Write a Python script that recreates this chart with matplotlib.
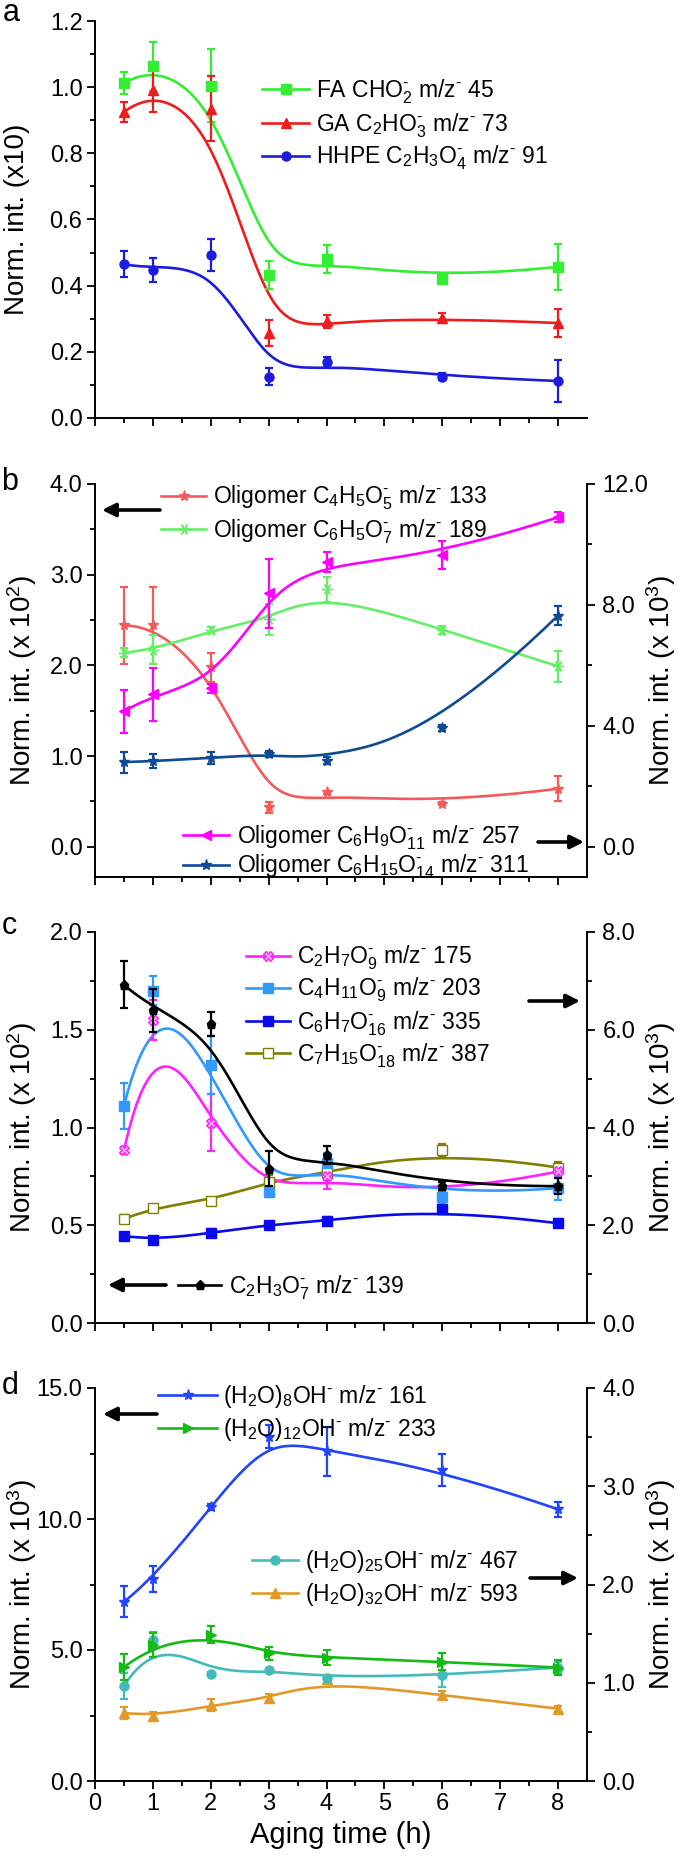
import numpy as np
import matplotlib
matplotlib.use("Agg")
import matplotlib.pyplot as plt
from matplotlib.lines import Line2D
from matplotlib.patches import FancyArrowPatch
from matplotlib.ticker import MultipleLocator, FormatStrFormatter

plt.rcParams['font.family'] = ['Liberation Sans', 'DejaVu Sans']
plt.rcParams['mathtext.fontset'] = 'custom'
plt.rcParams['mathtext.rm'] = 'Liberation Sans'
plt.rcParams['mathtext.it'] = 'Liberation Sans:italic'
plt.rcParams['mathtext.bf'] = 'Liberation Sans:bold'
plt.rcParams['mathtext.default'] = 'regular'

# ---------------- data ----------------
time_h = [0.5, 1, 2, 3, 4, 6, 8]

# panel a (x10)
fa_y = [1.012, 1.063, 1.005, 0.432, 0.480, 0.420, 0.457]
fa_e = [0.033, 0.075, 0.110, 0.043, 0.043, 0.010, 0.070]
ga_y = [0.925, 0.990, 0.935, 0.257, 0.292, 0.302, 0.287]
ga_e = [0.031, 0.066, 0.098, 0.040, 0.020, 0.015, 0.041]
hh_y = [0.465, 0.448, 0.492, 0.125, 0.170, 0.125, 0.112]
hh_e = [0.040, 0.036, 0.048, 0.025, 0.015, 0.010, 0.064]

# panel b  left (x10^2), right (x10^3)
b133_y = [2.44, 2.44, 1.98, 0.437, 0.60, 0.477, 0.64]
b133_e = [0.42, 0.42, 0.16, 0.06, 0.02, 0.02, 0.14]
b189_y = [2.14, 2.17, 2.39, 2.51, 2.84, 2.39, 1.99]
b189_e = [0.05, 0.16, 0.03, 0.17, 0.14, 0.04, 0.17]
b257_y = [4.48, 5.05, 5.25, 8.39, 9.43, 9.66, 10.90]
b257_e = [0.72, 0.88, 0.15, 1.14, 0.33, 0.47, 0.17]
b311_y = [2.80, 2.83, 2.94, 3.07, 2.85, 3.93, 7.65]
b311_e = [0.35, 0.23, 0.20, 0.10, 0.12, 0.10, 0.33]

# panel c  left (x10^2), right (x10^3)
c139_y = [1.73, 1.60, 1.53, 0.79, 0.86, 0.70, 0.70]
c139_e = [0.12, 0.11, 0.06, 0.09, 0.045, 0.02, 0.04]
c175_y = [3.53, 6.20, 4.10, 2.69, 3.00, 2.62, 3.10]
c175_e = [0.08, 0.40, 0.59, 0.10, 0.26, 0.08, 0.08]
c203_y = [4.44, 6.80, 5.28, 2.69, 3.28, 2.58, 2.76]
c203_e = [0.47, 0.30, 0.60, 0.12, 0.20, 0.12, 0.25]
c335_y = [1.78, 1.70, 1.84, 2.01, 2.09, 2.34, 2.04]
c335_e = [0.07, 0.06, 0.08, 0.06, 0.08, 0.12, 0.08]
c387_y = [2.13, 2.36, 2.50, 2.89, 3.08, 3.54, 3.18]
c387_e = [0.08, 0.06, 0.06, 0.14, 0.15, 0.12, 0.12]

# panel d  left (x10^3), right (x10^3)
d161_y = [6.84, 7.71, 10.46, 13.14, 12.58, 11.88, 10.37]
d161_e = [0.59, 0.49, 0.10, 0.43, 0.92, 0.62, 0.28]
d233_y = [4.34, 5.20, 5.58, 4.87, 4.71, 4.55, 4.33]
d233_e = [0.50, 0.45, 0.32, 0.25, 0.30, 0.32, 0.29]
d467_y = [0.965, 1.44, 1.09, 1.13, 1.05, 1.075, 1.155]
d467_e = [0.13, 0.075, 0.015, 0.015, 0.015, 0.12, 0.055]
d593_y = [0.693, 0.659, 0.771, 0.840, 1.035, 0.872, 0.736]
d593_e = [0.065, 0.04, 0.06, 0.05, 0.04, 0.04, 0.03]

# ---------------- helpers ----------------
W, H = 685, 1862
fig = plt.figure(figsize=(W / 100, H / 100), dpi=100)
M = r'^{\text{-}}'   # short superscript dash


def fx(p):
    return p / W


def fy(p):
    return 1 - p / H


def bspline(xs, ys, n=400, k=3):
    """Clamped cubic B-spline with the data points as control points (Origin 'B-Spline' connect)."""
    P = np.column_stack([xs, ys]).astype(float)
    m = len(P)
    knots = np.concatenate([np.zeros(k), np.linspace(0, 1, m - k + 1), np.ones(k)])
    t = np.linspace(0, 1, n)
    N = np.zeros((n, len(knots) - 1))
    for i in range(len(knots) - 1):
        if knots[i] < knots[i + 1]:
            N[:, i] = (t >= knots[i]) & (t < knots[i + 1])
    N[-1, :] = 0
    N[-1, m - 1] = 1
    for p in range(1, k + 1):
        Nn = np.zeros((n, len(knots) - 1 - p))
        for i in range(len(knots) - 1 - p):
            d1 = knots[i + p] - knots[i]
            d2 = knots[i + p + 1] - knots[i + 1]
            a = (t - knots[i]) / d1 * N[:, i] if d1 > 0 else 0
            b = (knots[i + p + 1] - t) / d2 * N[:, i + 1] if d2 > 0 else 0
            Nn[:, i] = a + b
        N = Nn
    C = N @ P
    return C[:, 0], C[:, 1]


MS = 6.5
LW = 1.9


def series(ax, y, e, color, marker, mfc=None, ms=MS, z=3):
    bx, by = bspline(time_h, y)
    ax.plot(bx, by, color=color, lw=LW, zorder=z, solid_capstyle='round')
    ax.errorbar(time_h, y, yerr=e, fmt='none', ecolor=color,
                elinewidth=1.6, capsize=3.2, capthick=1.6, zorder=z + 0.3)
    ax.plot(time_h, y, linestyle='none', marker=marker, color=color,
            mfc=color if mfc is None else mfc, mec=color, ms=ms, zorder=z + 0.5)


def legend_entry(xh0, xh1, xt, yc, color, marker, text, mfc=None, ms=MS):
    fig.add_artist(Line2D([fx(xh0), fx(xh1)], [fy(yc), fy(yc)], color=color, lw=LW,
                          transform=fig.transFigure))
    fig.add_artist(Line2D([fx((xh0 + xh1) / 2)], [fy(yc)], color=color, marker=marker,
                          mfc=color if mfc is None else mfc, mec=color, ms=ms,
                          transform=fig.transFigure))
    fig.text(fx(xt), fy(yc + 8), text, fontsize=16.5, ha='left', va='baseline')


def arrow(x0, x1, y):
    fig.add_artist(FancyArrowPatch((fx(x0), fy(y)), (fx(x1), fy(y)), transform=fig.transFigure,
                                   arrowstyle='-|>', mutation_scale=20, lw=2.6, color='black',
                                   shrinkA=0, shrinkB=0))


def style_axis(ax, ymaj, ymin, showx=False):
    ax.set_xlim(0, 8.5)
    ax.xaxis.set_major_locator(MultipleLocator(1))
    ax.set_xticks(np.arange(0.5, 8.0, 1.0), minor=True)
    ax.yaxis.set_major_locator(MultipleLocator(ymaj))
    ax.yaxis.set_minor_locator(MultipleLocator(ymin))
    ax.yaxis.set_major_formatter(FormatStrFormatter('%.1f'))
    ax.tick_params(which='major', direction='out', length=6, width=1.3, labelsize=17, pad=3)
    ax.tick_params(which='minor', direction='out', length=3.5, width=1.3)
    ax.tick_params(axis='x', labelbottom=showx)
    ax.spines['top'].set_visible(False)
    for s in ax.spines.values():
        s.set_linewidth(1.4)


left = fx(95)
width = fx(587) - fx(95)


def make_axes(top, bottom):
    return fig.add_axes([left, fy(bottom), width, (bottom - top) / H])


# ---------------- panel a ----------------
axa = make_axes(21, 418)
series(axa, fa_y, fa_e, '#33ee33', 's')
series(axa, ga_y, ga_e, '#ee1c1c', '^')
series(axa, hh_y, hh_e, '#1c1cdd', 'o')
axa.set_ylim(0, 1.2)
style_axis(axa, 0.2, 0.1)
axa.spines['right'].set_visible(False)
axa.set_ylabel('Norm. int. (x10)', fontsize=20, va='center')
axa.yaxis.set_label_coords((17 - 95) / 492, 0.5)
legend_entry(262, 309, 316, 89, '#33ee33', 's', r'FA CHO$_2' + M + r'$ m/z$' + M + r'$ 45')
legend_entry(262, 309, 316, 123, '#ee1c1c', '^', r'GA C$_2$HO$_3' + M + r'$ m/z$' + M + r'$ 73')
legend_entry(262, 309, 316, 156, '#1c1cdd', 'o', r'HHPE C$_2$H$_3$O$_4' + M + r'$ m/z$' + M + r'$ 91')

# ---------------- panel b ----------------
axb = make_axes(484, 877)
axb2 = axb.twinx()
series(axb, b133_y, b133_e, '#f55a5a', '*', ms=8)
series(axb, b189_y, b189_e, '#66ee66', (6, 2, 90), ms=8)
series(axb2, b257_y, b257_e, '#ff00ff', '<')
series(axb2, b311_y, b311_e, '#104a96', '*', ms=8)
axb.set_ylim(-1.0 / 3, 4.0)
axb2.set_ylim(-1.0, 12.0)
style_axis(axb, 1.0, 0.5)
style_axis(axb2, 4.0, 2.0)
axb.spines['right'].set_visible(False)
axb2.spines['left'].set_visible(False)
axb2.spines['bottom'].set_visible(False)
axb2.tick_params(axis='y', pad=5)
axb.set_ylabel(r'Norm. int. (x 10$^2$)', fontsize=20, va='center')
axb.yaxis.set_label_coords((22 - 95) / 492, 0.5)
axb2.set_ylabel(r'Norm. int. (x 10$^3$)', fontsize=20, va='center', rotation=90)
axb2.yaxis.set_label_coords((661 - 95) / 492, 0.5)
legend_entry(161, 206, 213, 496, '#f55a5a', '*',
             r'Oligomer C$_4$H$_5$O$_5' + M + r'$ m/z$' + M + r'$ 133', ms=8)
legend_entry(161, 206, 213, 529, '#66ee66', (6, 2, 90),
             r'Oligomer C$_6$H$_5$O$_7' + M + r'$ m/z$' + M + r'$ 189', ms=8)
arrow(160, 102, 510)
legend_entry(183, 229, 237, 835, '#ff00ff', '<',
             r'Oligomer C$_6$H$_9$O$_{11}' + M + r'$ m/z$' + M + r'$ 257')
legend_entry(183, 229, 237, 865, '#104a96', '*',
             r'Oligomer C$_6$H$_{15}$O$_{14}' + M + r'$ m/z$' + M + r'$ 311', ms=8)
arrow(538, 584, 842)

# ---------------- panel c ----------------
axc = make_axes(932, 1323)
axc2 = axc.twinx()
series(axc2, c387_y, c387_e, '#808000', 's', mfc='white')
series(axc2, c335_y, c335_e, '#0a0aee', 's')
series(axc2, c175_y, c175_e, '#ff22ff', 'X', mfc='#ffb0ff')
series(axc2, c203_y, c203_e, '#3399ff', 's')
series(axc, c139_y, c139_e, 'black', 'p')
axc.set_zorder(axc2.get_zorder() + 1)
axc.patch.set_visible(False)
axc.set_ylim(0, 2.0)
axc2.set_ylim(0, 8.0)
style_axis(axc, 0.5, 0.25)
style_axis(axc2, 2.0, 1.0)
axc.spines['right'].set_visible(False)
axc2.spines['left'].set_visible(False)
axc2.spines['bottom'].set_visible(False)
axc2.tick_params(axis='y', pad=5)
axc.set_ylabel(r'Norm. int. (x 10$^2$)', fontsize=20, va='center')
axc.yaxis.set_label_coords((22 - 95) / 492, 0.5)
axc2.set_ylabel(r'Norm. int. (x 10$^3$)', fontsize=20, va='center', rotation=90)
axc2.yaxis.set_label_coords((661 - 95) / 492, 0.5)
legend_entry(246, 290, 297, 956, '#ff22ff', 'X',
             r'C$_2$H$_7$O$_9' + M + r'$ m/z$' + M + r'$ 175', mfc='#ffb0ff')
legend_entry(246, 290, 297, 988, '#3399ff', 's',
             r'C$_4$H$_{11}$O$_9' + M + r'$ m/z$' + M + r'$ 203')
legend_entry(246, 290, 297, 1021, '#0a0aee', 's',
             r'C$_6$H$_7$O$_{16}' + M + r'$ m/z$' + M + r'$ 335')
legend_entry(246, 290, 297, 1053, '#808000', 's',
             r'C$_7$H$_{15}$O$_{18}' + M + r'$ m/z$' + M + r'$ 387', mfc='white')
arrow(529, 580, 1001)
legend_entry(178, 221, 229, 1285, 'black', 'p',
             r'C$_2$H$_3$O$_7' + M + r'$ m/z$' + M + r'$ 139')
arrow(166, 108, 1285)

# ---------------- panel d ----------------
axd = make_axes(1388, 1781)
axd2 = axd.twinx()
series(axd2, d593_y, d593_e, '#e09a2a', '^')
series(axd2, d467_y, d467_e, '#44bbbb', 'o')
series(axd, d233_y, d233_e, '#14bb14', '>')
series(axd, d161_y, d161_e, '#2244ff', '*', ms=8)
axd.set_zorder(axd2.get_zorder() + 1)
axd.patch.set_visible(False)
axd.set_ylim(0, 15.0)
axd2.set_ylim(0, 4.0)
style_axis(axd, 5.0, 2.5, showx=True)
style_axis(axd2, 1.0, 0.5)
axd.spines['right'].set_visible(False)
axd2.spines['left'].set_visible(False)
axd2.spines['bottom'].set_visible(False)
axd2.tick_params(axis='y', pad=5)
axd.set_ylabel(r'Norm. int. (x 10$^3$)', fontsize=20, va='center')
axd.yaxis.set_label_coords((22 - 95) / 492, 0.5)
axd2.set_ylabel(r'Norm. int. (x 10$^3$)', fontsize=20, va='center', rotation=90)
axd2.yaxis.set_label_coords((661 - 95) / 492, 0.5)
axd.set_xlabel('Aging time (h)', fontsize=21)
legend_entry(158, 217, 223, 1395, '#2244ff', '*',
             r'(H$_2$O)$_8$OH$' + M + r'$ m/z$' + M + r'$ 161', ms=8)
legend_entry(158, 217, 223, 1428, '#14bb14', '>',
             r'(H$_2$O)$_{12}$OH$' + M + r'$ m/z$' + M + r'$ 233')
arrow(157, 103, 1414)
legend_entry(252, 298, 305, 1560, '#44bbbb', 'o',
             r'(H$_2$O)$_{25}$OH$' + M + r'$ m/z$' + M + r'$ 467')
legend_entry(252, 298, 305, 1593, '#e09a2a', '^',
             r'(H$_2$O)$_{32}$OH$' + M + r'$ m/z$' + M + r'$ 593')
arrow(530, 578, 1578)

# panel letters
for lab, (x, y) in zip('abcd', [(11, 13), (10, 482), (9, 926), (10, 1386)]):
    fig.text(fx(x), fy(y), lab, fontsize=22, ha='center', va='center')

fig.savefig('out.png', dpi=100)
